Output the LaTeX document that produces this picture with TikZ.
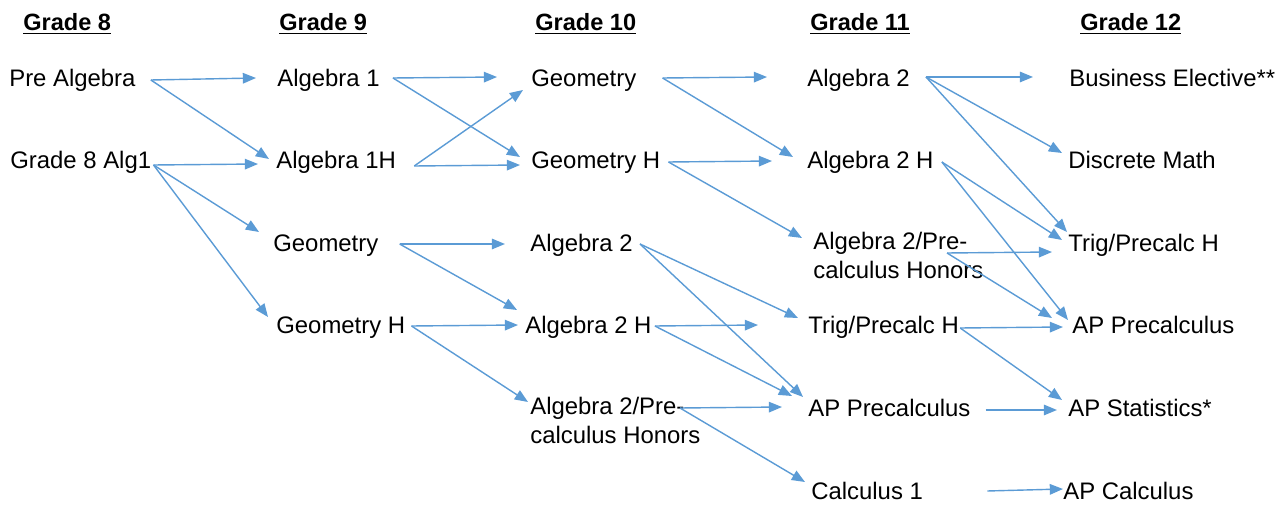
\documentclass[tikz,border=0pt]{standalone}
\usepackage{fontspec}
\setmainfont{Liberation Sans}
\usepackage{tikz}
\usetikzlibrary{arrows.meta, calc}
\definecolor{linkblue}{RGB}{91, 155, 213}

\begin{document}
\begin{tikzpicture}[x=0.02cm, y=-0.02cm,
        font=\fontsize{13.6}{15.3}\selectfont,
        course/.style={anchor=base west, inner sep=0pt, align=left},
        grade/.style={anchor=base west, inner sep=0pt, font=\fontsize{13.4}{15.3}\selectfont\bfseries},
        link/.style={draw=linkblue, line width=0.8pt, -{Triangle[length=7.5pt, width=6pt]}}]
    \useasboundingbox (0,0) rectangle (1282,506);

    % headings
    \foreach \x/\g in {23/8, 279/9, 535/10, 810/11, 1080/12}
        \node[grade] (hd\g) at (\x,31) {\underline{Grade \g}};

    % grade 8
    \node[course] (g8pre) at (9,87) {Pre Algebra};
    \node[course] (g8alg) at (10,169) {Grade 8 Alg1};
    % grade 9
    \node[course] (g9alg) at (277,87) {Algebra 1};
    \node[course] (g9algh) at (276,169) {Algebra 1H};
    \node[course] (g9geo) at (273,252) {Geometry};
    \node[course] (g9geoh) at (276,334) {Geometry H};
    % grade 10 (two-line nodes sit on their last line)
    \node[course] (g10geo) at (531,87) {Geometry};
    \node[course] (g10geoh) at (531,169) {Geometry H};
    \node[course] (g10alg) at (530,252) {Algebra 2};
    \node[course] (g10algh) at (525,334) {Algebra 2 H};
    \node[course] (g10pre) at (530,444) {Algebra 2/Pre-\\[1.5pt]calculus Honors};
    % grade 11
    \node[course] (g11alg) at (807,87) {Algebra 2};
    \node[course] (g11algh) at (807,169) {Algebra 2 H};
    \node[course] (g11pre) at (813,279) {Algebra 2/Pre-\\[1.5pt]calculus Honors};
    \node[course] (g11trig) at (808,334) {Trig/Precalc H};
    \node[course] (g11ap) at (808,417) {AP Precalculus};
    \node[course] (g11calc) at (811,500) {Calculus 1};
    % grade 12
    \node[course] (g12bus) at (1069,87) {Business Elective**};
    \node[course] (g12dis) at (1068,169) {Discrete Math};
    \node[course] (g12trig) at (1068,252) {Trig/Precalc H};
    \node[course] (g12ap) at (1072,334) {AP Precalculus};
    \node[course] (g12stat) at (1068,417) {AP Statistics*};
    \node[course] (g12calc) at (1063,500) {AP Calculus};

    % where the arrows leave each course
    \foreach \n/\dx/\dy in {g8pre/15/-7, g8alg/2/-4, g9alg/13/-9, g9algh/18/-3,
        g9geo/21/-8, g9geoh/6/-8, g10geo/26/-9, g10geoh/8/-7, g10alg/7/-8,
        g10algh/3/-8, g11alg/16/-10, g11algh/8/-7, g11trig/1/-6, g11ap/15/-7,
        g11calc/64/-9}
        \coordinate (\n-o) at ([shift={(\dx,\dy)}]\n.base east);
    \coordinate (g10pre-o) at ([shift={(150,-36)}]g10pre.base west);
    \coordinate (g11pre-o) at ([shift={(134,-26)}]g11pre.base west);

    % course paths
    \foreach \s/\t/\dx/\dy in {
        g8pre/g9alg/-21/-9, g8pre/g9algh/-7/-10,
        g8alg/g9algh/-18/-5, g8alg/g9geo/-14/-20, g8alg/g9geoh/-8/-17,
        g9alg/g10geo/-34/-10, g9alg/g10geoh/-11/-12,
        g9algh/g10geo/-8/3, g9algh/g10geoh/-11/-4,
        g9geo/g10alg/-25/-8, g9geo/g10algh/-8/-24,
        g9geoh/g10algh/-7/-9, g9geoh/g10pre/-2/-42,
        g10geo/g11alg/-40/-10, g10geo/g11algh/-14/-12,
        g10geoh/g11algh/-35/-8, g10geoh/g11pre/-11/-41,
        g10alg/g11trig/-10/-16, g10alg/g11ap/-5/-20,
        g10algh/g11trig/-50/-9, g10algh/g11ap/-16/-21,
        g10pre/g11ap/-26/-10, g10pre/g11calc/-6/-18,
        g11alg/g12bus/-36/-10, g11alg/g12dis/-6/-16, g11alg/g12trig/-1/-20,
        g11algh/g12trig/-6/-12, g11algh/g12ap/-4/-14,
        g11pre/g12trig/-16/0, g11pre/g12ap/-20/-16,
        g11trig/g12ap/-9/-7, g11trig/g12stat/-6/-17,
        g11ap/g12stat/-11/-7,
        g11calc/g12calc/0/-11}
        \draw[link] (\s-o) -- ([shift={(\dx,\dy)}]\t.base west);
\end{tikzpicture}
\end{document}
